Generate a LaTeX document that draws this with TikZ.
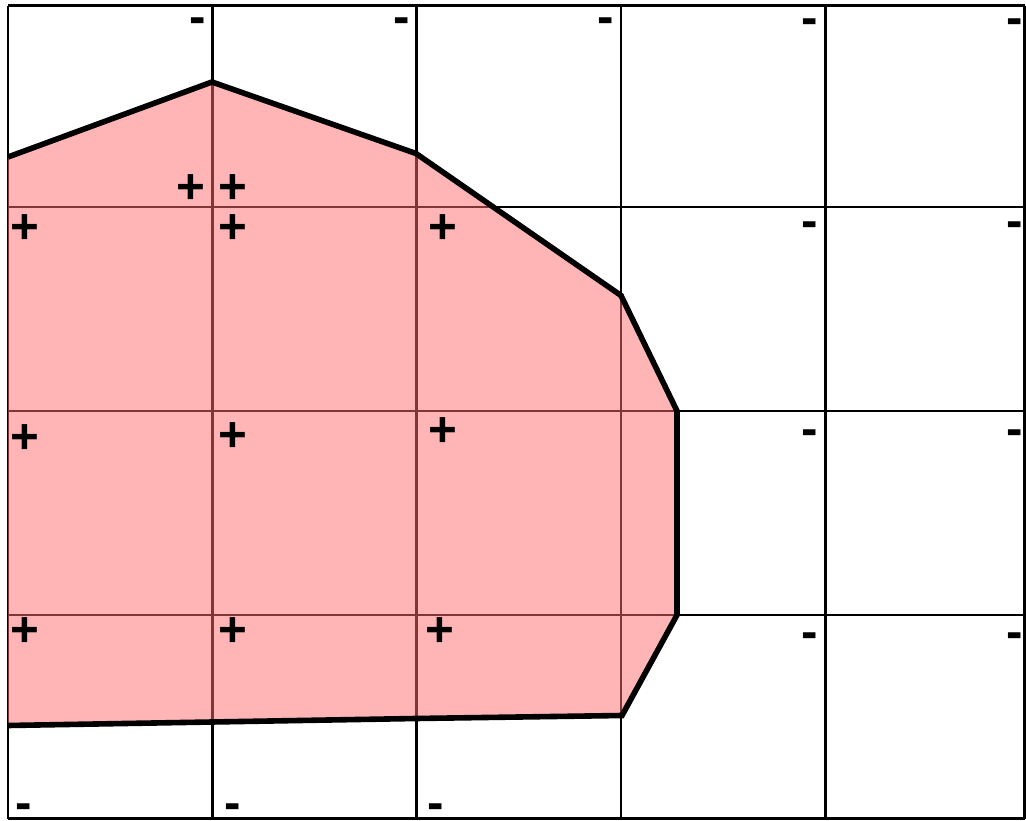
\documentclass[tikz,border=0pt]{standalone}
\usepackage{fontspec}
\setmainfont{Liberation Sans}
\begin{document}
\begin{tikzpicture}[x=0.75pt,y=-0.75pt,
  gridline/.style={line width=2.1pt,black},
  region/.style={fill={rgb,255:red,255;green,108;blue,108},fill opacity=0.5},
  boundary/.style={line width=4.2pt,black,line join=miter},
  sign/.style={inner sep=0pt,font=\bfseries\fontsize{37}{40}\selectfont},
  minus/.style={sign,anchor=base}]
\useasboundingbox (0,0) rectangle (1026,821);
% grid
\foreach \x in {8,212.3,416.6,621,825.2,1024.5}
  \draw[gridline] (\x,5.7) -- (\x,818.8);
\foreach \y in {5.7,207,411,615,818.8}
  \draw[gridline] (8,\y) -- (1024.5,\y);
% region
\coordinate (v1) at (8,157);
\coordinate (v2) at (212,82);
\coordinate (v3) at (416,153.5);
\coordinate (v4) at (621,295.5);
\coordinate (v5) at (677,411);
\coordinate (v6) at (677,615);
\coordinate (v7) at (622,715.5);
\coordinate (v8) at (416,718.5);
\coordinate (v9) at (8,725.5);
\fill[region] (v1) -- (v2) -- (v3) -- (v4) -- (v5) -- (v6) -- (v7) -- (v8) -- (v9) -- cycle;
\draw[boundary] (v1) -- (v2) -- (v3) -- (v4) -- (v5) -- (v6) -- (v7) -- (v8) -- (v9);
% minus signs (base line about 13px below the bar)
\node[minus] (m1) at (198,33) {-};
\node[minus] (m2) at (402,33) {-};
\node[minus] (m3) at (606,33) {-};
\node[minus] (m4) at (810,34) {-};
\node[minus] (m5) at (1015,34) {-};
\node[minus] (m6) at (810,237) {-};
\node[minus] (m7) at (1015,237) {-};
\node[minus] (m8) at (810,445) {-};
\node[minus] (m9) at (1015,445) {-};
\node[minus] (m10) at (810,648) {-};
\node[minus] (m11) at (1015,648) {-};
\node[minus] (m12) at (24,819) {-};
\node[minus] (m13) at (233,819) {-};
\node[minus] (m14) at (436,819) {-};
% plus signs
\node[sign] (p1) at (191,189) {+};
\node[sign] (p2) at (233,189) {+};
\node[sign] (p3) at (25,229) {+};
\node[sign] (p4) at (233,229) {+};
\node[sign] (p5) at (443,229) {+};
\node[sign] (p6) at (25,439) {+};
\node[sign] (p7) at (233,437) {+};
\node[sign] (p8) at (443,432) {+};
\node[sign] (p9) at (25,632) {+};
\node[sign] (p10) at (233,632) {+};
\node[sign] (p11) at (440,632) {+};
\end{tikzpicture}
\end{document}
